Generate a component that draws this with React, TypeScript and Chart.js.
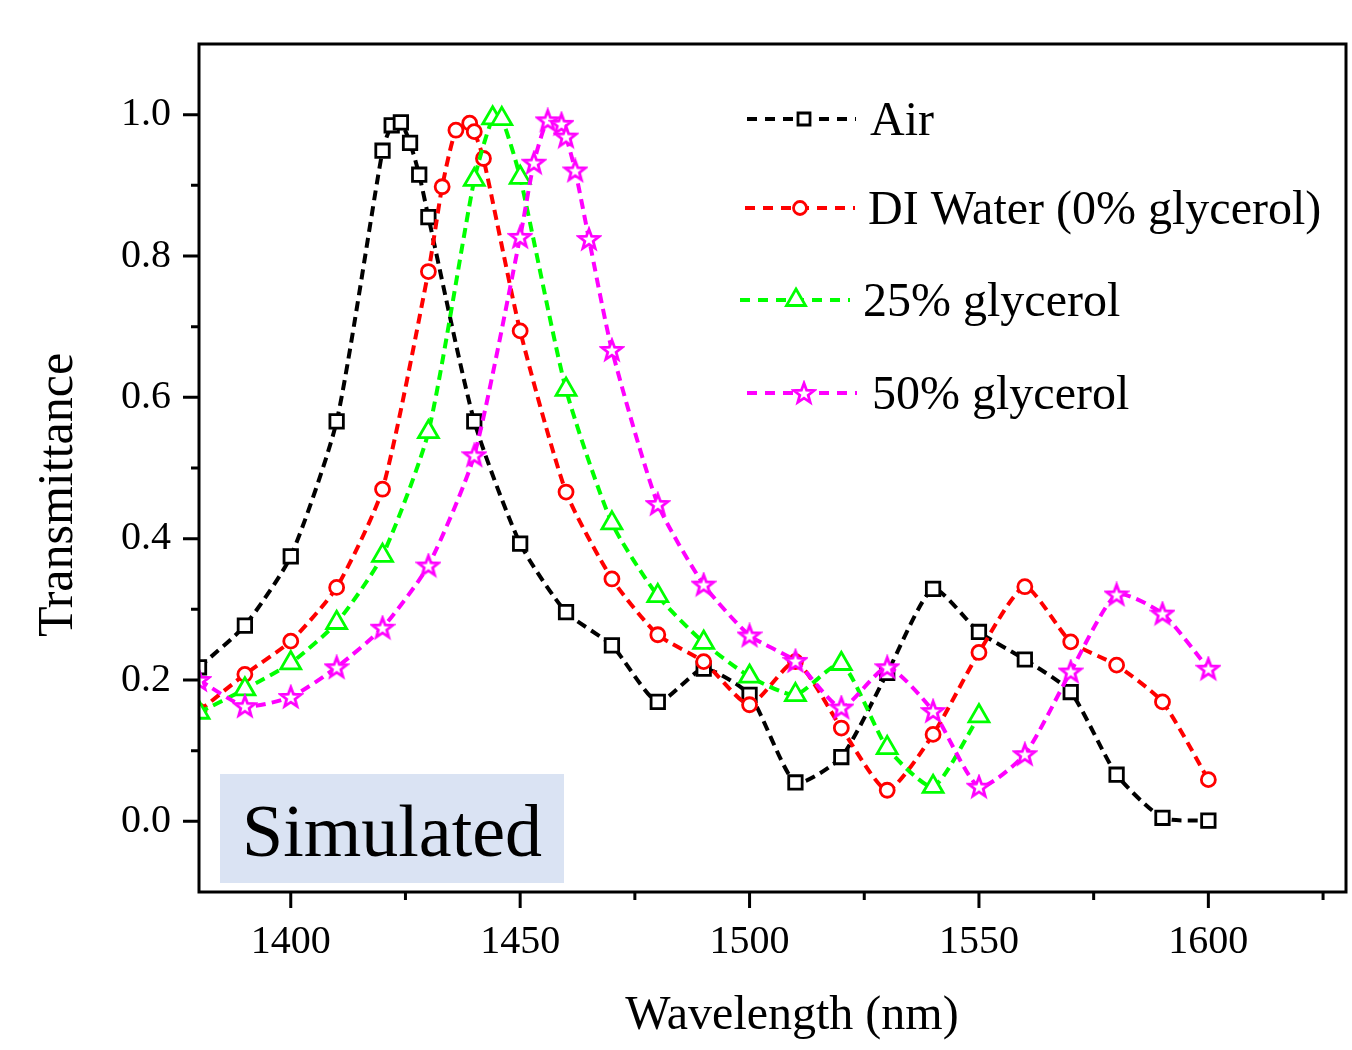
import React, { useEffect, useRef } from "react";
import { Chart, registerables } from "chart.js";

Chart.register(...registerables);

// ---- Data ----
const airX = [1380, 1390, 1400, 1410, 1420, 1422, 1424, 1426, 1428, 1430, 1440, 1450, 1460, 1470, 1480, 1490, 1500, 1510, 1520, 1530, 1540, 1550, 1560, 1570, 1580, 1590, 1600];
const airY = [0.218, 0.277, 0.375, 0.566, 0.949, 0.985, 0.989, 0.960, 0.915, 0.855, 0.566, 0.393, 0.296, 0.249, 0.169, 0.216, 0.179, 0.055, 0.091, 0.210, 0.329, 0.268, 0.229, 0.183, 0.066, 0.005, 0.001];

const waterX = [1380, 1390, 1400, 1410, 1420, 1430, 1433, 1436, 1439, 1440, 1442, 1450, 1460, 1470, 1480, 1490, 1500, 1510, 1520, 1530, 1540, 1550, 1560, 1570, 1580, 1590, 1600];
const waterY = [0.156, 0.208, 0.255, 0.331, 0.470, 0.778, 0.898, 0.978, 0.988, 0.976, 0.938, 0.694, 0.466, 0.343, 0.264, 0.226, 0.165, 0.226, 0.132, 0.044, 0.123, 0.239, 0.332, 0.254, 0.221, 0.169, 0.059];

const gly25X = [1380, 1390, 1400, 1410, 1420, 1430, 1440, 1444, 1446, 1450, 1460, 1470, 1480, 1490, 1500, 1510, 1520, 1530, 1540, 1550];
const gly25Y = [0.154, 0.187, 0.224, 0.281, 0.376, 0.551, 0.908, 0.995, 0.994, 0.911, 0.611, 0.422, 0.319, 0.253, 0.205, 0.179, 0.223, 0.104, 0.049, 0.149];

const gly50X = [1380, 1390, 1400, 1410, 1420, 1430, 1440, 1450, 1453, 1456, 1459, 1460, 1462, 1465, 1470, 1480, 1490, 1500, 1510, 1520, 1530, 1540, 1550, 1560, 1570, 1580, 1590, 1600];
const gly50Y = [0.200, 0.163, 0.176, 0.218, 0.274, 0.362, 0.518, 0.827, 0.932, 0.992, 0.987, 0.969, 0.921, 0.824, 0.667, 0.449, 0.335, 0.263, 0.227, 0.161, 0.218, 0.156, 0.049, 0.095, 0.212, 0.321, 0.294, 0.216];

const seriesLabels = ["Air", "DI Water (0% glycerol)", "25% glycerol", "50% glycerol"];
const seriesColors = ["#000000", "#FF0000", "#00FF00", "#FF00FF"];

const xTickValues = [1400, 1450, 1500, 1550, 1600];
const xMinorTicks = [1425, 1475, 1525, 1575, 1625];
const yTickValues = [0, 0.2, 0.4, 0.6, 0.8, 1.0];
const yMinorTicks = [0.1, 0.3, 0.5, 0.7, 0.9];

const xTitle = "Wavelength (nm)";
const yTitle = "Transmittance";
const panelLabel = "Simulated";

const SERIF = '"Liberation Serif", "Times New Roman", serif';

function makeStar(color: string): HTMLCanvasElement {
  const c = document.createElement("canvas");
  c.width = 26;
  c.height = 26;
  const g = c.getContext("2d")!;
  g.beginPath();
  for (let i = 0; i < 10; i++) {
    const r = i % 2 === 0 ? 10.5 : 4.4;
    const a = -Math.PI / 2 + (i * Math.PI) / 5;
    const px = 13 + r * Math.cos(a);
    const py = 13.8 + r * Math.sin(a);
    if (i === 0) g.moveTo(px, py);
    else g.lineTo(px, py);
  }
  g.closePath();
  g.fillStyle = "#ffffff";
  g.fill();
  g.lineWidth = 2.8;
  g.strokeStyle = color;
  g.stroke();
  return c;
}

function drawMarker(ctx: CanvasRenderingContext2D, shape: string, x: number, y: number, color: string, star: HTMLCanvasElement) {
  ctx.save();
  ctx.setLineDash([]);
  ctx.lineWidth = 2.8;
  ctx.strokeStyle = color;
  ctx.fillStyle = "#ffffff";
  ctx.beginPath();
  if (shape === "rect") {
    ctx.rect(x - 6, y - 6, 12, 12);
  } else if (shape === "circle") {
    ctx.arc(x, y, 6.5, 0, Math.PI * 2);
  } else if (shape === "triangle") {
    const r = 11;
    ctx.moveTo(x, y - r);
    ctx.lineTo(x + r * Math.sin((2 * Math.PI) / 3), y - r * Math.cos((2 * Math.PI) / 3));
    ctx.lineTo(x + r * Math.sin((4 * Math.PI) / 3), y - r * Math.cos((4 * Math.PI) / 3));
    ctx.closePath();
  } else {
    ctx.drawImage(star, x - star.width / 2, y - star.height / 2);
    ctx.restore();
    return;
  }
  ctx.fill();
  ctx.stroke();
  ctx.restore();
}

export default function App() {
  const ref = useRef<HTMLCanvasElement | null>(null);

  useEffect(() => {
    if (!ref.current) return;
    const star = makeStar(seriesColors[3]);
    const shapes = ["rect", "circle", "triangle", "star"];

    const legendRows = [
      { y: 119, x0: 747, x1: 856, mx: 804, tx: 870 },
      { y: 208, x0: 745, x1: 855, mx: 800, tx: 868 },
      { y: 300, x0: 740, x1: 850, mx: 796, tx: 863 },
      { y: 393, x0: 747, x1: 857, mx: 804, tx: 872 },
    ];

    const decor = {
      id: "decor",
      beforeDatasetsDraw(chart: any) {
        const ctx = chart.ctx as CanvasRenderingContext2D;
        ctx.save();
        ctx.fillStyle = "#DAE3F3";
        ctx.fillRect(220, 774, 344, 109);
        ctx.fillStyle = "#000";
        ctx.font = `74px ${SERIF}`;
        ctx.textBaseline = "alphabetic";
        ctx.textAlign = "left";
        ctx.fillText(panelLabel, 242, 856);
        ctx.restore();
      },
      afterDraw(chart: any) {
        const ctx = chart.ctx as CanvasRenderingContext2D;
        const ca = chart.chartArea;
        const xs = chart.scales.x;
        const ys = chart.scales.y;
        ctx.save();
        ctx.strokeStyle = "#000";
        ctx.lineWidth = 3;
        ctx.setLineDash([]);
        ctx.strokeRect(ca.left, ca.top, ca.right - ca.left, ca.bottom - ca.top);
        ctx.beginPath();
        xTickValues.forEach((v) => {
          const p = xs.getPixelForValue(v);
          ctx.moveTo(p, ca.bottom);
          ctx.lineTo(p, ca.bottom + 16);
        });
        xMinorTicks.forEach((v) => {
          const p = xs.getPixelForValue(v);
          ctx.moveTo(p, ca.bottom);
          ctx.lineTo(p, ca.bottom + 8);
        });
        yTickValues.forEach((v) => {
          const p = ys.getPixelForValue(v);
          ctx.moveTo(ca.left, p);
          ctx.lineTo(ca.left - 16, p);
        });
        yMinorTicks.forEach((v) => {
          const p = ys.getPixelForValue(v);
          ctx.moveTo(ca.left, p);
          ctx.lineTo(ca.left - 8, p);
        });
        ctx.stroke();

        // axis titles
        ctx.fillStyle = "#000";
        ctx.font = `48px ${SERIF}`;
        ctx.textAlign = "center";
        ctx.textBaseline = "alphabetic";
        ctx.fillText(xTitle, 792, 1029);
        ctx.save();
        ctx.translate(72, 495);
        ctx.rotate(-Math.PI / 2);
        ctx.font = `50px ${SERIF}`;
        ctx.fillText(yTitle, 0, 0);
        ctx.restore();

        // legend
        legendRows.forEach((r, i) => {
          ctx.save();
          ctx.strokeStyle = seriesColors[i];
          ctx.lineWidth = 4;
          ctx.setLineDash([10, 8]);
          ctx.beginPath();
          ctx.moveTo(r.x0, r.y);
          ctx.lineTo(r.x1, r.y);
          ctx.stroke();
          ctx.restore();
          drawMarker(ctx, shapes[i], r.mx, r.y, seriesColors[i], star);
          ctx.fillStyle = "#000";
          ctx.font = `48px ${SERIF}`;
          ctx.textAlign = "left";
          ctx.textBaseline = "alphabetic";
          ctx.fillText(seriesLabels[i], r.tx, r.y + 16);
        });
        ctx.restore();
      },
    };

    const mk = (xs: number[], ys: number[]) => xs.map((x, i) => ({ x, y: ys[i] }));
    const base = (i: number) => ({
      label: seriesLabels[i],
      borderColor: seriesColors[i],
      backgroundColor: seriesColors[i],
      borderWidth: 4,
      borderDash: [10, 6],
      tension: 0.2,
      pointBackgroundColor: "#ffffff",
      pointBorderColor: seriesColors[i],
      pointBorderWidth: 2.8,
      order: 4 - i,
    });

    const chart = new Chart(ref.current, {
      type: "line",
      data: {
        datasets: [
          { ...base(0), data: mk(airX, airY), pointStyle: "rect", pointRadius: 9.5 },
          { ...base(1), data: mk(waterX, waterY), pointStyle: "circle", pointRadius: 7 },
          { ...base(2), data: mk(gly25X, gly25Y), pointStyle: "triangle", pointRadius: 11.5 },
          { ...base(3), data: mk(gly50X, gly50Y), pointStyle: star as any, pointRadius: 10 },
        ] as any,
      },
      options: {
        responsive: false,
        animation: false,
        layout: { autoPadding: false, padding: { top: 44, right: 6, left: 0, bottom: 0 } },
        plugins: { legend: { display: false }, tooltip: { enabled: false } },
        scales: {
          x: {
            type: "linear",
            min: 1380,
            max: 1630,
            afterBuildTicks: (s: any) => {
              s.ticks = xTickValues.map((v) => ({ value: v }));
            },
            afterFit: (s: any) => {
              s.height = 158;
            },
            grid: { display: true, drawOnChartArea: false, drawTicks: true, tickLength: 16, color: "rgba(0,0,0,0)" },
            border: { display: false },
            ticks: {
              autoSkip: false,
              maxRotation: 0,
              padding: 10,
              color: "#000",
              font: { family: SERIF, size: 40 },
              callback: (v: any) => String(v),
            },
          },
          y: {
            type: "linear",
            min: -0.1,
            max: 1.1,
            afterBuildTicks: (s: any) => {
              s.ticks = yTickValues.map((v) => ({ value: v }));
            },
            afterFit: (s: any) => {
              s.width = 199;
            },
            grid: { display: true, drawOnChartArea: false, drawTicks: true, tickLength: 16, color: "rgba(0,0,0,0)" },
            border: { display: false },
            ticks: {
              autoSkip: false,
              padding: 12,
              color: "#000",
              font: { family: SERIF, size: 40 },
              callback: (v: any) => Number(v).toFixed(1),
            },
          },
        },
      },
      plugins: [decor],
    });
    return () => chart.destroy();
  }, []);

  return (
    <div style={{ position: "absolute", left: 0, top: 0, width: 1352, height: 1050, background: "#fff" }}>
      <canvas ref={ref} width={1352} height={1050} style={{ display: "block" }} />
    </div>
  );
}
